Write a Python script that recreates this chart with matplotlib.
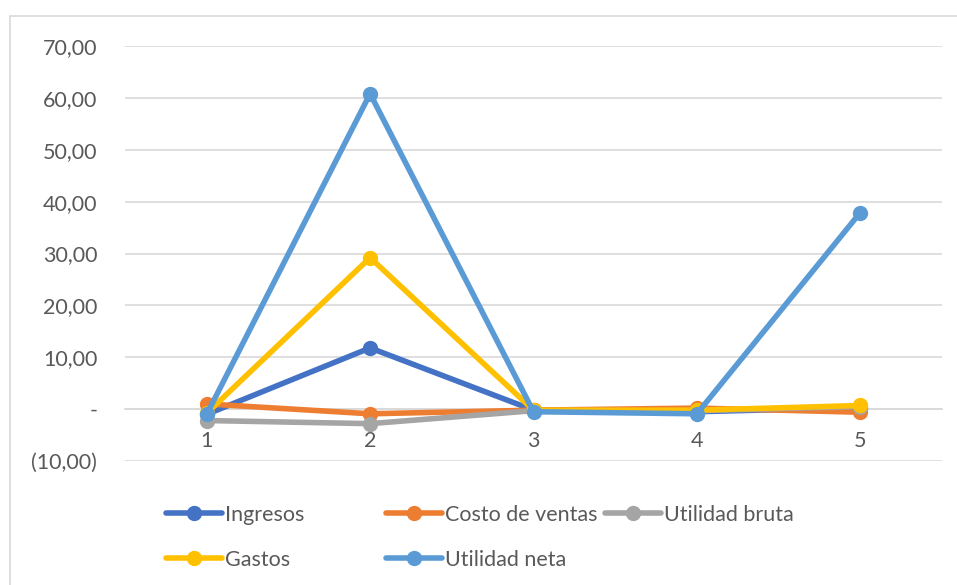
import numpy as np
import matplotlib.pyplot as plt
from matplotlib.patches import Rectangle
from matplotlib.ticker import FuncFormatter

plt.rcParams['font.family'] = ['Lato', 'DejaVu Sans']

# Periods and series values
periods = [1, 2, 3, 4, 5]
ingresos = [-1.0, 11.8, -0.2, -0.5, 0.3]
costo_ventas = [1.0, -0.9, -0.2, 0.2, -0.6]
utilidad_bruta = [-2.2, -2.8, -0.3, -0.3, 0.5]
gastos = [-0.8, 29.2, -0.2, -0.2, 0.7]
utilidad_neta = [-1.0, 60.8, -0.5, -0.9, 37.9]

series_names = ["Ingresos", "Costo de ventas", "Utilidad bruta", "Gastos", "Utilidad neta"]
series_values = [ingresos, costo_ventas, utilidad_bruta, gastos, utilidad_neta]
series_colors = ["#4472C4", "#ED7D31", "#A5A5A5", "#FFC000", "#5B9BD5"]

text_color = "#595959"
grid_color = "#D9D9D9"
fsize = 15.5

fig = plt.figure(figsize=(9.57, 5.85), dpi=100)
ax = fig.add_axes([125 / 957, 1 - 461 / 585, (942 - 125) / 957, (461 - 46) / 585])

# chart border
fig.patches.append(Rectangle((10 / 957, -0.1), 1.2, 1 - 16 / 585 + 0.1,
                             transform=fig.transFigure, fill=False,
                             edgecolor=grid_color, linewidth=1.2))

lines = []
for name, vals, col in zip(series_names, series_values, series_colors):
    ln, = ax.plot(periods, vals, color=col, linewidth=4.0, marker='o',
                  markersize=10, label=name, solid_capstyle='round', zorder=3)
    lines.append(ln)

ax.set_xlim(0.5, 5.5)
ax.set_ylim(-10, 70)
ax.set_yticks(np.arange(-10, 71, 10))
ax.set_xticks(periods)


def fmt(v, pos):
    if abs(v) < 1e-9:
        return "-"
    s = f"{abs(v):.2f}".replace(".", ",")
    return f"({s})" if v < 0 else s


ax.yaxis.set_major_formatter(FuncFormatter(fmt))
ax.grid(axis='y', color=grid_color, linewidth=1.2)
ax.set_axisbelow(True)
for side in ['top', 'right', 'left']:
    ax.spines[side].set_visible(False)
ax.spines['bottom'].set_position(('data', 0))
ax.spines['bottom'].set_color(grid_color)
ax.spines['bottom'].set_linewidth(1.2)
ax.tick_params(axis='both', length=0, labelsize=fsize, labelcolor=text_color)
ax.tick_params(axis='y', pad=20)
ax.tick_params(axis='x', pad=16)

# legend laid out in Excel-style rows
groups = [([0, 3], 166), ([1, 4], 386), ([2], 605)]
for idx, xpos in groups:
    leg = fig.legend([lines[i] for i in idx], [series_names[i] for i in idx],
                     loc='upper left', bbox_to_anchor=(xpos / 957, 1 - 505 / 585),
                     frameon=False, fontsize=fsize, labelcolor=text_color,
                     handlelength=2.6, handletextpad=0.15, borderpad=0,
                     borderaxespad=0, labelspacing=1.15)

fig.savefig("out.png", dpi=100)
